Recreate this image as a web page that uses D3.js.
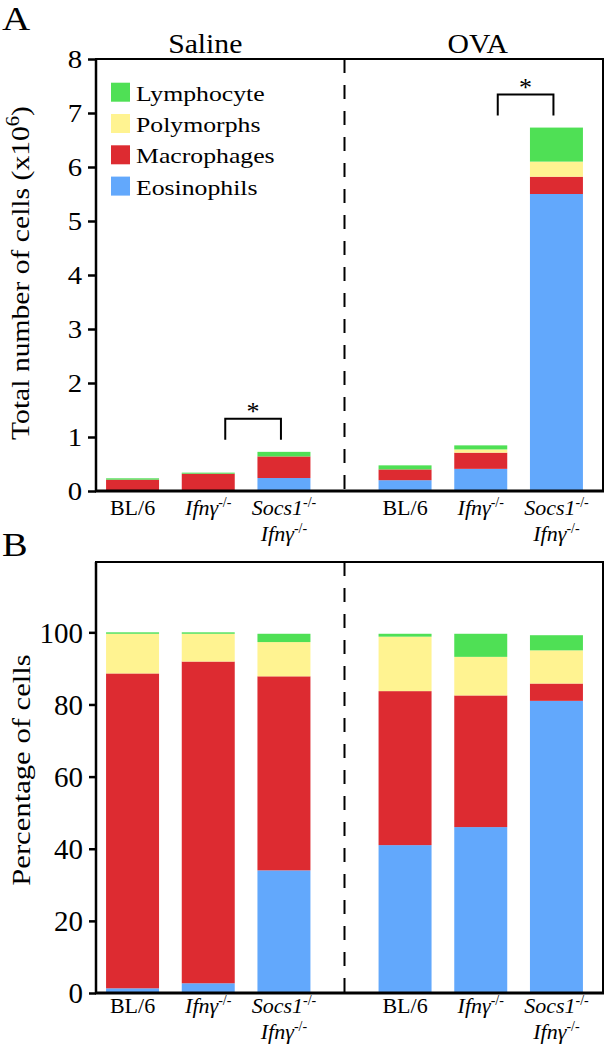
<!DOCTYPE html>
<html><head><meta charset="utf-8">
<script src="https://cdn.jsdelivr.net/npm/d3@7"></script>
<style>
body{margin:0;background:#fff}
svg{display:block;background:#fff}
text{font-family:"Liberation Serif","Times New Roman",serif;fill:#000}
</style>
</head><body><svg id="c" width="606" height="1050"></svg>
<script>
// ---------- data ----------
const groups = ["Saline", "OVA"];
const genotypes = ["BL/6", "Ifnγ-/-", "Socs1-/- Ifnγ-/-"];
const series = ["Eosinophils", "Macrophages", "Polymorphs", "Lymphocyte"];
const legendOrder = ["Lymphocyte", "Polymorphs", "Macrophages", "Eosinophils"];
const seriesColors = ["#62a8fc", "#dd2b31", "#fff391", "#4fe055"];
// bar order: Saline BL/6, Saline Ifnγ, Saline Socs1, OVA BL/6, OVA Ifnγ, OVA Socs1
// Panel A: total number of cells (x10^6)
const eosTotal  = [0.00, 0.00, 0.24, 0.20, 0.41, 5.50];
const macTotal  = [0.21, 0.32, 0.40, 0.20, 0.30, 0.32];
const polyTotal = [0.00, 0.00, 0.00, 0.00, 0.06, 0.28];
const lymTotal  = [0.025, 0.02, 0.085, 0.075, 0.075, 0.63];
// Panel B: percentage of cells
const eosPct  = [1.3, 2.7, 34.0, 41.0, 46.0, 81.0];
const macPct  = [87.3, 89.2, 53.8, 42.7, 36.5, 4.8];
const polyPct = [11.0, 7.7, 9.5, 15.1, 10.7, 9.2];
const lymPct  = [0.4, 0.4, 2.3, 0.8, 6.4, 4.2];
const topTicks = [0, 1, 2, 3, 4, 5, 6, 7, 8];
const botTicks = [0, 20, 40, 60, 80, 100];
// category label parts: [text, superscript, italic]
const genotypeLabels = [
  [["BL/6", "", false]],
  [["Ifnγ", "-/-", true]],
  [["Socs1", "-/-", true], ["Ifnγ", "-/-", true]]
];
// significance brackets: [group, from genotype index, to genotype index]
const brackets = [["Saline", 1, 2], ["OVA", 1, 2]];

// ---------- setup ----------
const svg = d3.select("#c");
const L = 96, R = 603;
const xGroup = d3.scaleBand().domain(groups).range([72, 617]);
const xInner = d3.scaleBand().domain(genotypes).range([0, xGroup.bandwidth()])
  .paddingInner(0.3).paddingOuter(0.45);
const bars = groups.flatMap((g, gi) => genotypes.map((t, ti) => ({g, t, i: gi * 3 + ti})));
const xOf = d => xGroup(d.g) + xInner(d.t);
const bw = xInner.bandwidth();
const color = d3.scaleOrdinal().domain(series).range(seriesColors);

const yTop = d3.scaleLinear().domain([0, 8]).range([491, 59]);
const yBot = d3.scaleLinear().domain([0, 119.5]).range([993, 562]);

function stext(parent, x, y, txt, size, sx, anchor, rot) {
  return parent.append("text")
    .attr("transform", `translate(${x},${y}) rotate(${rot || 0}) scale(${sx},1)`)
    .attr("font-size", size).attr("text-anchor", anchor || "start").text(txt);
}

function panel(yScale, vals, ticks, opts) {
  const rows = bars.map(b => {
    const o = {g: b.g, t: b.t, i: b.i};
    series.forEach((s, k) => o[s] = vals[k][b.i]);
    return o;
  });
  const stack = d3.stack().keys(series)(rows);
  const y0 = yScale(0), yTopEdge = yScale.range()[1];
  // bars
  svg.append("g").selectAll("g").data(stack).join("g")
    .attr("fill", d => color(d.key))
    .selectAll("rect").data(d => d).join("rect")
    .attr("x", d => xOf(d.data)).attr("width", bw)
    .attr("y", d => yScale(d[1])).attr("height", d => Math.max(0, yScale(d[0]) - yScale(d[1])));
  // frame
  const f = svg.append("g").attr("stroke", "#000").attr("fill", "none");
  f.append("path").attr("stroke-width", 2)
    .attr("d", `M${L},${y0}V${yTopEdge}H${R}V${y0}`);
  f.append("line").attr("x1", L - 1).attr("x2", R + 1).attr("y1", y0).attr("y2", y0).attr("stroke-width", 3);
  f.append("line").attr("x1", L).attr("x2", L).attr("y1", yTopEdge).attr("y2", y0 + 1).attr("stroke-width", 2.5);
  // dashed divider
  f.append("line").attr("x1", xGroup("OVA")).attr("x2", xGroup("OVA"))
    .attr("y1", yTopEdge).attr("y2", y0).attr("stroke-width", 2).attr("stroke-dasharray", "14,12");
  // y axis ticks
  const ax = svg.append("g").attr("transform", `translate(${L},0)`)
    .call(d3.axisLeft(yScale).tickValues(ticks).tickSize(opts.tickLen).tickSizeOuter(0).tickFormat(d3.format("d")));
  ax.select(".domain").remove();
  ax.selectAll(".tick line").attr("stroke", "#000").attr("stroke-width", 2.5);
  ax.selectAll(".tick text").attr("fill", "#000")
    .attr("font-family", '"Liberation Serif","Times New Roman",serif')
    .attr("font-size", opts.tickFont).attr("x", 0).attr("dy", opts.tickDy)
    .attr("transform", `translate(${-opts.tickLen - opts.tickPad},0) scale(${opts.tickSx},1)`);
  // category labels (one text element per category, lines as tspans)
  bars.forEach(b => {
    const cx = xOf(b) + bw / 2;
    const t = svg.append("text").attr("text-anchor", "middle").attr("font-size", 22);
    genotypeLabels[genotypes.indexOf(b.t)].forEach((ln, li) => {
      t.append("tspan").attr("x", cx).attr("y", opts.catY + li * 25.5)
        .attr("font-style", ln[2] ? "italic" : "normal").text(ln[0]);
      if (ln[1]) t.append("tspan").attr("font-style", "normal").attr("font-size", 14)
        .attr("dy", -8).text(ln[1]);
    });
  });
}

// ---------- panel A ----------
panel(yTop, [eosTotal, macTotal, polyTotal, lymTotal], topTicks,
  {tickLen: 8, tickPad: 6, tickFont: 25, tickSx: 1.15, tickDy: "0.34em", catY: 515});
// ---------- panel B ----------
panel(yBot, [eosPct, macPct, polyPct, lymPct], botTicks,
  {tickLen: 7, tickPad: 6, tickFont: 29, tickSx: 1.0, tickDy: "0.34em", catY: 1013});

// panel letters
stext(svg, 2, 30, "A", 34, 1.15);
stext(svg, 2, 556, "B", 34, 1.13);
// group titles
groups.forEach(g => {
  const cx = xGroup(g) + xInner(genotypes[1]) + bw / 2 - 3;
  stext(svg, cx, 52.5, g, 27, 1.1, "middle");
});
// y labels
const yl1 = stext(svg, 29, 273, "", 26, 1.14, "middle", -90);
yl1.append("tspan").text("Total number of cells (x10");
yl1.append("tspan").attr("font-size", 18).attr("dy", -10).text("6");
yl1.append("tspan").attr("dy", 10).text(")");
stext(svg, 30, 770, "Percentage of cells", 26, 1.18, "middle", -90);

// legend
const lg = svg.append("g");
legendOrder.forEach((s, k) => {
  const y = 82.7 + k * 31.3;
  lg.append("rect").attr("x", 111).attr("y", y).attr("width", 19).attr("height", 19).attr("fill", color(s));
  stext(lg, 136, y + 18, s, 22, 1.17);
});

// significance brackets (panel A)
const totals = bars.map(b => eosTotal[b.i] + macTotal[b.i] + polyTotal[b.i] + lymTotal[b.i]);
brackets.forEach(([g, a, b]) => {
  const ba = bars.find(d => d.g === g && d.t === genotypes[a]);
  const bb = bars.find(d => d.g === g && d.t === genotypes[b]);
  const x1 = xOf(ba) + bw / 2 + 17, x2 = xOf(bb) + bw / 2 - 3;
  const yb = yTop(Math.max(totals[ba.i], totals[bb.i])) - 12;
  const yt = yb - 21;
  svg.append("path").attr("fill", "none").attr("stroke", "#000").attr("stroke-width", 2)
    .attr("d", `M${x1},${yb}V${yt}H${x2}V${yb}`);
  svg.append("text").attr("x", (x1 + x2) / 2).attr("y", yt + 1).attr("text-anchor", "middle")
    .attr("font-size", 26).text("*");
});
</script>
</body></html>
